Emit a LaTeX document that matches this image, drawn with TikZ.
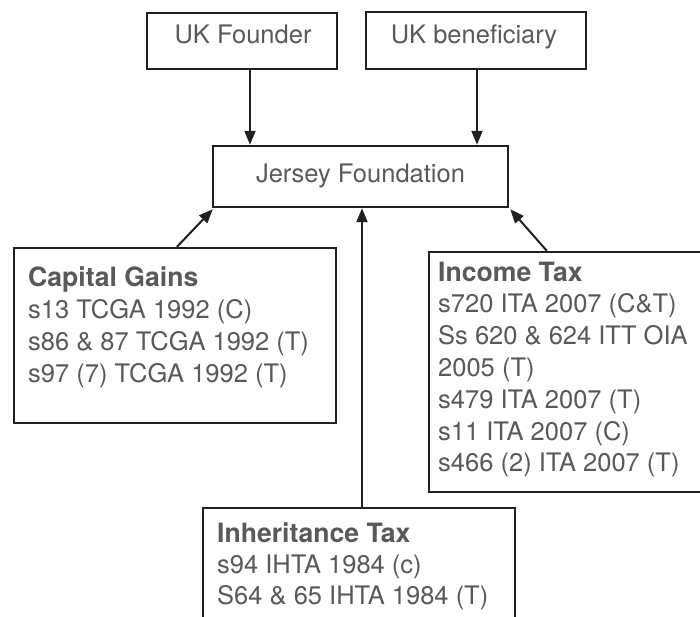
\documentclass[tikz,border=0pt]{standalone}
\usepackage{fontspec}
\setmainfont{TeX Gyre Heros}
\usetikzlibrary{arrows.meta,calc}
\definecolor{txt}{HTML}{58595B}
\definecolor{ln}{HTML}{231F20}
\begin{document}
\begin{tikzpicture}[x=1pt,y=-1pt,
  box/.style={draw=ln, line width=2.4pt, inner sep=0pt},
  lbl/.style={inner sep=0pt, text=txt, font=\fontsize{25.5}{30}\selectfont},
  ttl/.style={inner sep=0pt, text=txt, font=\fontsize{26.6}{30}\selectfont\bfseries},
  arr/.style={draw=ln, line width=2pt, -{Triangle[length=14pt,width=11pt]}}]
\useasboundingbox (0,0) rectangle (700,616);
\clip (0,0) rectangle (700,616);
% boxes
\node[box, minimum width=190pt, minimum height=56pt] (founder) at (242,41) {};
\node[box, minimum width=220pt, minimum height=57pt] (benef) at (476,40.5) {};
\node[box, minimum width=295pt, minimum height=61pt] (jersey) at (360.5,176.5) {};
\node[box, minimum width=322pt, minimum height=175pt] (cg) at (175,335.5) {};
\node[box, minimum width=331pt, minimum height=240pt] (it) at (594.5,372) {};
\node[box, minimum width=312pt, minimum height=152pt] (iht) at (359,584) {};
% labels
\node[lbl, anchor=base] (tf) at (243,43) {UK Founder};
\node[lbl, anchor=base] (tb) at (474,43) {UK beneficiary};
\node[lbl, anchor=base] (tj) at (360.5,182) {Jersey Foundation};
% capital gains
\node[ttl, anchor=base west] (cg0) at (28,286) {Capital Gains};
\foreach \t [count=\i] in {s13 TCGA 1992 (C), s86 \& 87 TCGA 1992 (T), s97 (7) TCGA 1992 (T)}
  \node[lbl, anchor=base west] (cg\i) at (28,{286+32*\i}) {\t};
% income tax
\node[ttl, anchor=base west] (it0) at (438,281) {Income Tax};
\foreach \t [count=\i] in {s720 ITA 2007 (C\&T), Ss 620 \& 624 ITT OIA, 2005 (T), s479 ITA 2007 (T), s11 ITA 2007 (C), s466 (2) ITA 2007 (T)}
  \node[lbl, anchor=base west] (it\i) at (438,{281+31.8*\i}) {\t};
% inheritance tax
\node[ttl, anchor=base west] (iht0) at (217,542) {Inheritance Tax};
\foreach \t [count=\i] in {s94 IHTA 1984 (c), S64 \& 65 IHTA 1984 (T)}
  \node[lbl, anchor=base west] (iht\i) at (217,{542+31*\i}) {\t};
% connectors
\coordinate (fA) at ([xshift=8pt]founder.south);
\draw[arr] (fA) -- (fA |- jersey.north);
\coordinate (bA) at ([xshift=1pt]benef.south);
\draw[arr] (bA) -- (bA |- jersey.north);
\draw[arr] ([xshift=2pt]cg.north) -- ([xshift=1pt,yshift=-1pt]jersey.south west);
\draw[arr] ([xshift=119pt]it.north west) -- ([xshift=1pt,yshift=-1pt]jersey.south east);
\coordinate (iA) at ([xshift=1.5pt]jersey.south);
\draw[arr] (iA |- iht.north) -- (iA);
\end{tikzpicture}
\end{document}
